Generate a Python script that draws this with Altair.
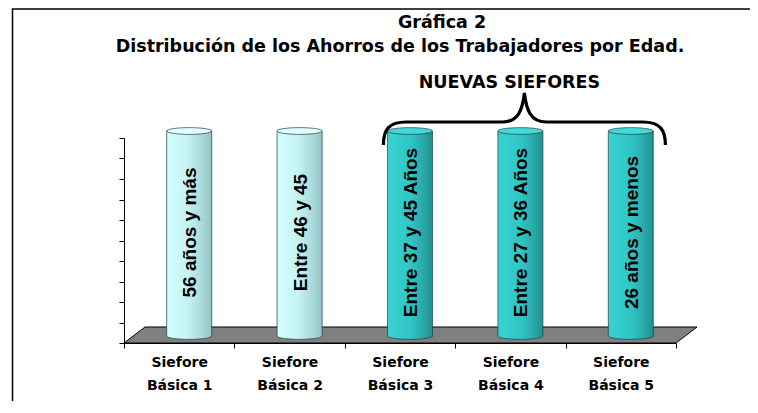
import altair as alt
import pandas as pd

# ---- data ----
categorias = ["Siefore Básica 1", "Siefore Básica 2", "Siefore Básica 3",
              "Siefore Básica 4", "Siefore Básica 5"]
valores = [100, 100, 100, 100, 100]
edades = ["56 años y más", "Entre 46 y 45", "Entre 37 y 45 Años",
          "Entre 27 y 36 Años", "26 años y menos"]
grupos = ["Anterior", "Anterior", "Nueva", "Nueva", "Nueva"]
titulo_1 = "Gráfica 2"
titulo_2 = "Distribución de los Ahorros de los Trabajadores por Edad."
etiqueta_grupo = "NUEVAS SIEFORES"

df = pd.DataFrame({"categoria": categorias, "valor": valores,
                   "edad": edades, "grupo": grupos})

# ---- styles ----
def grad(stops):
    return alt.LinearGradient(
        gradient="linear", x1=0, x2=1, y1=0, y2=0,
        stops=[alt.GradientStop(offset=o, color=c) for o, c in stops])

grad_claro = grad([(0, "#d2ffff"), (0.45, "#c6f4f4"), (0.7, "#b2e0e0"), (1, "#93c6c6")])
grad_teal = grad([(0, "#38d2d2"), (0.5, "#31c6c6"), (0.75, "#2badad"), (1, "#228f8f")])
tapa_claro = "#e4ffff"
tapa_teal = "#44d8d8"
borde = "#1f3f3f"

k = 0.15
c = 0.552 * k
elipse = (f"M-1,0 C-1,-{c} -0.552,-{k} 0,-{k} C0.552,-{k} 1,-{c} 1,0 "
          f"C1,{c} 0.552,{k} 0,{k} C-0.552,{k} -1,{c} -1,0 Z")
media_elipse = (f"M-1,-0.04 L-1,0 C-1,{c} -0.552,{k} 0,{k} C0.552,{k} 1,{c} 1,0 L1,-0.04")
piso = "M-276,0 L276,0 L297,-16 L-255,-16 Z"
llave = ("M-141,23 C-141,8 -136,0 -118,0 L-22,0 C-6,0 -2,-12 0,-29 "
         "C2,-12 6,0 22,0 L118,0 C136,0 141,8 141,23")

BAR_W = 45
DX = 10
DY = -7

x_enc = alt.X("categoria:N", sort=categorias,
              scale=alt.Scale(paddingInner=0, paddingOuter=0),
              axis=alt.Axis(title=None, labelAngle=0,
                            labelExpr="[substring(datum.label, 0, 7), substring(datum.label, 8)]",
                            labelFont="DejaVu Sans", labelFontWeight="bold",
                            labelFontSize=14, labelLineHeight=23, labelColor="black",
                            labelPadding=7, tickBand="extent", tickSize=5,
                            tickColor="black", domainColor="black", zindex=1))
y_scale = alt.Scale(domain=[0, 100], nice=False, zero=True)
y_axis = alt.Axis(title=None, labels=False, values=list(range(0, 101, 10)),
                  tickSize=5, tickColor="black", domainColor="black", grid=False, zindex=1)

def y_of(field):
    return alt.Y(field, scale=y_scale, axis=y_axis)

base = alt.Chart(df)

marco = base.transform_filter(alt.datum.categoria == categorias[0]).mark_rect(
    fill="transparent", stroke="black", strokeWidth=1.5
).encode(x=alt.value(-111.5), x2=alt.value(760), y=alt.value(-129), y2=alt.value(420))

suelo = base.transform_filter(alt.datum.categoria == categorias[2]).transform_calculate(
    base="0").mark_point(shape=piso, size=4, filled=True, fill="#808080",
                         stroke="black", strokeWidth=1, opacity=1
).encode(x=x_enc, y=y_of("base:Q"))

capas = [marco, suelo]
for g, gr, tapa in [("Anterior", grad_claro, tapa_claro), ("Nueva", grad_teal, tapa_teal)]:
    sub = base.transform_filter(alt.datum.grupo == g)
    cuerpo = sub.mark_bar(width=BAR_W, xOffset=DX, yOffset=DY, fill=gr,
                          stroke=borde, strokeWidth=0.7).encode(x=x_enc, y=y_of("valor:Q"))
    fondo = sub.transform_calculate(base="0").mark_point(
        shape=media_elipse, size=BAR_W ** 2, filled=True, fill=gr, stroke=borde,
        strokeWidth=0.7, opacity=1, xOffset=DX, yOffset=DY
    ).encode(x=x_enc, y=y_of("base:Q"))
    cima = sub.mark_point(
        shape=elipse, size=BAR_W ** 2, filled=True, fill=tapa, stroke=borde,
        strokeWidth=0.7, opacity=1, xOffset=DX, yOffset=DY
    ).encode(x=x_enc, y=y_of("valor:Q"))
    capas += [cuerpo, fondo, cima]

textos = base.transform_calculate(medio="datum.valor / 2").mark_text(
    angle=270, font="Liberation Sans", fontWeight="bold", fontSize=19,
    color="black", baseline="middle", align="center", xOffset=DX + 1, yOffset=-8
).encode(x=x_enc, y=y_of("medio:Q"), text="edad:N")

t1 = base.transform_filter(alt.datum.categoria == categorias[2]).mark_text(
    font="DejaVu Sans", fontWeight="bold", fontSize=17.5, color="black",
    baseline="middle", align="center", xOffset=42, yOffset=-115
).encode(x=x_enc, y=y_of("valor:Q"), text=alt.value(titulo_1))

t2 = base.transform_filter(alt.datum.categoria == categorias[2]).mark_text(
    font="DejaVu Sans", fontWeight="bold", fontSize=17.5, color="black",
    baseline="middle", align="center", xOffset=0, yOffset=-91
).encode(x=x_enc, y=y_of("valor:Q"), text=alt.value(titulo_2))

t3 = base.transform_filter(alt.datum.categoria == categorias[3]).mark_text(
    font="DejaVu Sans", fontWeight="bold", fontSize=17.5, color="black",
    baseline="middle", align="center", xOffset=-1, yOffset=-55
).encode(x=x_enc, y=y_of("valor:Q"), text=alt.value(etiqueta_grupo))

brace = base.transform_filter(alt.datum.categoria == categorias[3]).mark_point(
    shape=llave, size=4, filled=False, stroke="black", strokeWidth=3.2, opacity=1,
    xOffset=14, yOffset=-16
).encode(x=x_enc, y=y_of("valor:Q"))

capas += [textos, t1, t2, t3, brace]

chart = alt.layer(*capas).properties(
    width=552, height=205,
    autosize=alt.AutoSizeParams(type="none"),
    padding={"left": 116, "top": 130, "right": 74, "bottom": 58},
).configure_view(stroke=None)

chart.save("out.html", embed_options={"renderer": "svg", "actions": False})
